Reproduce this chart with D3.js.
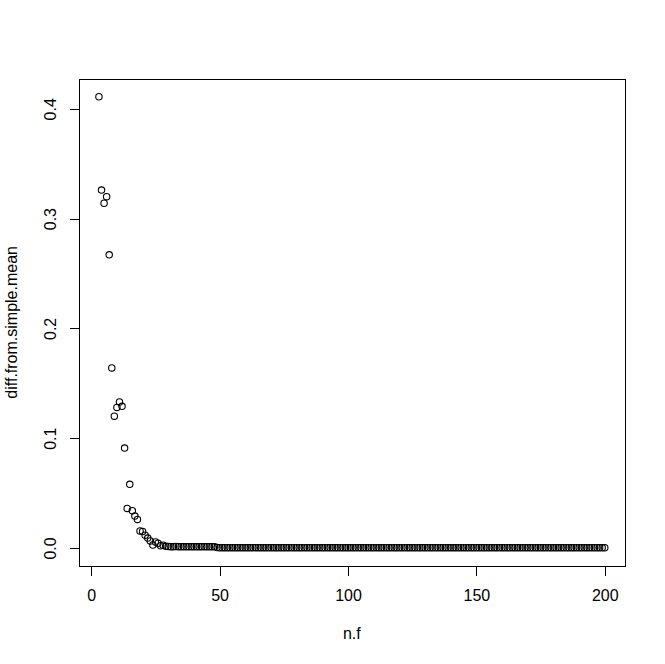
<!DOCTYPE html>
<html>
<head>
<meta charset="utf-8">
<script src="https://cdn.jsdelivr.net/npm/d3@7"></script>
<style>
  html, body { margin: 0; padding: 0; background: #ffffff; }
  svg { display: block; }
  text { font-family: "Liberation Sans", Arial, sans-serif; fill: #000; }
</style>
</head>
<body>
<script>
// ---- data ----
const xTicks = [0, 50, 100, 150, 200];
const yTicks = [0.0, 0.1, 0.2, 0.3, 0.4];
const yTickLabels = ["0.0", "0.1", "0.2", "0.3", "0.4"];
const xLabel = "n.f";
const yLabel = "diff.from.simple.mean";
const nStart = 3;
// diff.from.simple.mean for n.f = 3, 4, 5, ... 29
const diffEarly = [
  0.411, 0.326, 0.314, 0.320, 0.267, 0.164, 0.120, 0.128, 0.133, 0.129,
  0.091, 0.036, 0.058, 0.034, 0.029, 0.026, 0.0155, 0.015, 0.0116, 0.009,
  0.0064, 0.0027, 0.0055, 0.0043, 0.0020, 0.0025, 0.0015
];
// n.f = 30 .. 48
const diffMid = [
  0.0013, 0.0012, 0.0012, 0.0013, 0.0012, 0.0011, 0.0012, 0.0012, 0.0011, 0.0012,
  0.0012, 0.0011, 0.0012, 0.0011, 0.0012, 0.0011, 0.0011, 0.0012, 0.0011
];
// n.f = 49 .. 200
const diffLate = [
  0.0003, 0.0002, 0.0002, 0.0002, 0.0002, 0.0002, 0.0002, 0.0002, 0.0002, 0.0002,
  0.0002, 0.0002, 0.0002, 0.0002, 0.0002, 0.0002, 0.0002, 0.0002, 0.0002, 0.0002,
  0.0002, 0.0002, 0.0002, 0.0002, 0.0002, 0.0002, 0.0002, 0.0002, 0.0002, 0.0002,
  0.0002, 0.0002, 0.0002, 0.0002, 0.0002, 0.0002, 0.0002, 0.0002, 0.0002, 0.0002,
  0.0002, 0.0002, 0.0002, 0.0002, 0.0002, 0.0002, 0.0002, 0.0002, 0.0002, 0.0002,
  0.0002, 0.0002, 0.0002, 0.0002, 0.0002, 0.0002, 0.0002, 0.0002, 0.0002, 0.0002,
  0.0002, 0.0002, 0.0002, 0.0002, 0.0002, 0.0002, 0.0002, 0.0002, 0.0002, 0.0002,
  0.0002, 0.0002, 0.0002, 0.0002, 0.0002, 0.0002, 0.0002, 0.0002, 0.0002, 0.0002,
  0.0002, 0.0002, 0.0002, 0.0002, 0.0002, 0.0002, 0.0002, 0.0002, 0.0002, 0.0002,
  0.0002, 0.0002, 0.0002, 0.0002, 0.0002, 0.0002, 0.0002, 0.0002, 0.0002, 0.0002,
  0.0002, 0.0002, 0.0002, 0.0002, 0.0002, 0.0002, 0.0002, 0.0002, 0.0002, 0.0002,
  0.0002, 0.0002, 0.0002, 0.0002, 0.0002, 0.0002, 0.0002, 0.0002, 0.0002, 0.0002,
  0.0002, 0.0002, 0.0002, 0.0002, 0.0002, 0.0002, 0.0002, 0.0002, 0.0002, 0.0002,
  0.0002, 0.0002, 0.0002, 0.0002, 0.0002, 0.0002, 0.0002, 0.0002, 0.0002, 0.0002,
  0.0002, 0.0002, 0.0002, 0.0002, 0.0002, 0.0002, 0.0002, 0.0002, 0.0002, 0.0002,
  0.0002, 0.0002
];
const diffValues = diffEarly.concat(diffMid, diffLate);
const points = diffValues.map((v, i) => ({ n: nStart + i, d: v }));

// ---- layout (R base graphics style) ----
const W = 665, H = 664;
const lineH = 19.2;
const plot = { left: 78.7, right: 625, top: 78.7, bottom: 566 };

const xMin = d3.min(points, p => p.n), xMax = d3.max(points, p => p.n);
const yMax = d3.max(points, p => p.d);
const xPad = (xMax - xMin) * 0.04, yPad = (yMax - 0) * 0.04;

const x = d3.scaleLinear().domain([xMin - xPad, xMax + xPad]).range([plot.left, plot.right]);
const y = d3.scaleLinear().domain([0 - yPad, yMax + yPad]).range([plot.bottom, plot.top]);

const svg = d3.select("body").append("svg").attr("width", W).attr("height", H);
svg.append("rect").attr("width", W).attr("height", H).attr("fill", "#fff");

// points (open circles)
svg.append("g")
  .selectAll("circle")
  .data(points)
  .join("circle")
  .attr("cx", p => x(p.n))
  .attr("cy", p => y(p.d))
  .attr("r", 3.2)
  .attr("fill", "none")
  .attr("stroke", "#000")
  .attr("stroke-width", 1.1);

// box
svg.append("rect")
  .attr("x", Math.round(plot.left) + 0.5)
  .attr("y", Math.round(plot.top) + 0.5)
  .attr("width", Math.round(plot.right) - Math.round(plot.left))
  .attr("height", Math.round(plot.bottom) - Math.round(plot.top))
  .attr("fill", "none").attr("stroke", "#000").attr("stroke-width", 1)
  .attr("shape-rendering", "crispEdges");

// x axis
const xAxis = d3.axisBottom(x).tickValues(xTicks).tickSize(lineH * 0.5).tickPadding(0).tickFormat(d3.format("d"));
const gx = svg.append("g").attr("transform", `translate(0,${Math.round(plot.bottom) + 0.5})`).call(xAxis);
gx.select(".domain").attr("d", `M${x(xTicks[0])},0H${x(xTicks[xTicks.length - 1])}`).attr("shape-rendering", "crispEdges");
gx.selectAll(".tick line").attr("shape-rendering", "crispEdges");
gx.selectAll(".tick text")
  .attr("y", lineH * 1.8).attr("dy", null)
  .style("font-family", "'Liberation Sans', Arial, sans-serif")
  .style("font-size", "16px");

// y axis
const yAxis = d3.axisLeft(y).tickValues(yTicks).tickSize(lineH * 0.5).tickPadding(0)
  .tickFormat((d, i) => yTickLabels[i]);
const gy = svg.append("g").attr("transform", `translate(${Math.round(plot.left) + 0.5},0)`).call(yAxis);
gy.select(".domain").attr("d", `M0,${y(yTicks[0])}V${y(yTicks[yTicks.length - 1])}`).attr("shape-rendering", "crispEdges");
gy.selectAll(".tick line").attr("shape-rendering", "crispEdges");
gy.selectAll(".tick text")
  .attr("x", null).attr("dy", null)
  .attr("text-anchor", "middle")
  .attr("transform", `translate(${-lineH * 1.2},0) rotate(-90)`)
  .style("font-family", "'Liberation Sans', Arial, sans-serif")
  .style("font-size", "16px");

// axis titles
svg.append("text")
  .attr("x", (plot.left + plot.right) / 2)
  .attr("y", plot.bottom + lineH * 3.8)
  .attr("text-anchor", "middle")
  .style("font-size", "16px")
  .text(xLabel);

svg.append("text")
  .attr("transform", `translate(${plot.left - lineH * 3.2},${(plot.top + plot.bottom) / 2}) rotate(-90)`)
  .attr("text-anchor", "middle")
  .style("font-size", "16px")
  .text(yLabel);
</script>
</body>
</html>
